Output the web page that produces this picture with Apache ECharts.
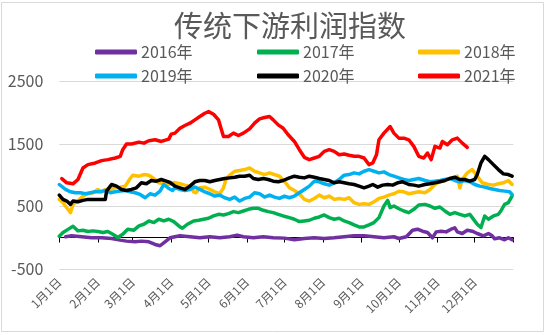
<!DOCTYPE html>
<html>
<head>
<meta charset="utf-8">
<script src="https://cdn.jsdelivr.net/npm/echarts@6/dist/echarts.min.js"></script>
<style>
html,body{margin:0;padding:0;background:#fff;}
#chart{width:550px;height:335px;}
</style>
</head>
<body>
<div id="chart"></div>
<script>
// ---- data (day index from 1月1日, value) ----
var titleText = '传统下游利润指数';
var seriesNames = ['2016年', '2017年', '2018年', '2019年', '2020年', '2021年'];
var yTicks = [-500, 500, 1500, 2500];
var monthLabels = ['1月1日','2月1日','3月1日','4月1日','5月1日','6月1日','7月1日','8月1日','9月1日','10月1日','11月1日','12月1日'];

var days2016 = [5,10,18,26,34,42,49,54,61,66,72,77,81,85,89,93,97,105,113,121,129,137,143,148,156,164,172,181,189,197,205,213,221,229,237,245,253,261,269,273,279,284,288,292,296,300,303,307,311,315,318,320,324,328,332,336,341,345,348,350,354,358,361,364];
var vals2016 = [12,27,12,-5,-5,-16,-42,-58,-69,-58,-69,-111,-132,-69,-5,12,27,12,-5,12,-5,12,38,12,-5,12,-5,-10,-37,-16,-5,-16,-5,12,27,27,12,-5,12,-16,12,117,133,101,80,-5,90,101,90,133,154,90,64,117,101,64,27,64,27,-21,-5,-37,-5,-37];

var days2017 = [0,3,7,11,15,19,23,27,31,35,39,43,47,51,55,60,64,68,72,76,80,84,88,92,97,99,103,108,112,116,120,124,128,132,136,140,144,148,152,156,160,164,168,172,176,180,185,189,193,197,201,205,209,213,217,221,225,229,233,237,241,245,249,253,257,261,264,266,269,273,277,281,285,289,294,298,302,306,310,314,318,322,326,330,332,336,339,342,345,349,353,355,358,361,364];
var vals2017 = [20,80,130,180,106,117,96,106,96,80,96,53,0,53,133,117,186,212,265,239,292,265,292,255,170,149,212,265,276,292,308,345,371,361,382,414,398,424,451,467,467,435,414,398,371,345,318,292,255,265,276,308,329,361,318,292,308,265,239,202,170,170,202,239,318,504,594,477,504,460,424,398,451,520,530,504,467,488,424,371,398,371,345,371,318,212,159,345,292,345,371,424,530,557,663];

var days2018 = [0,3,6,9,11,15,19,23,27,31,34,37,41,45,49,53,57,59,64,68,72,76,80,84,88,92,97,101,105,108,110,113,117,121,125,129,132,134,137,141,145,149,153,157,161,165,169,173,177,181,185,189,193,197,201,205,209,213,217,221,225,229,233,237,241,245,249,253,257,261,265,269,273,277,281,285,289,294,298,302,306,310,314,318,320,322,324,328,332,336,340,345,349,353,357,361,364];
var vals2018 = [610,557,477,398,530,583,663,700,716,769,731,769,769,795,806,822,944,997,981,1007,997,944,875,859,848,880,859,838,822,731,716,795,806,769,731,700,795,928,997,1060,1071,1087,1113,1060,1034,1007,1034,1007,981,900,795,753,700,610,583,625,678,636,663,610,625,610,636,557,530,541,530,573,625,647,678,700,740,731,700,716,731,716,769,848,891,912,944,954,981,795,928,1034,1087,981,875,848,838,859,875,912,848];

var days2019 = [0,5,9,13,17,21,25,29,33,37,41,45,49,53,57,61,65,69,73,77,81,84,88,91,93,97,101,105,109,113,117,121,125,129,133,137,141,145,149,153,157,161,165,169,173,177,181,185,189,193,197,201,205,209,213,217,221,225,229,233,237,241,245,249,253,257,261,265,269,273,277,281,285,289,294,298,302,306,310,314,318,322,326,330,334,338,342,346,350,354,358,362,364];
var vals2019 = [848,769,731,716,716,700,716,731,731,753,716,731,742,753,731,716,689,636,700,678,742,848,784,753,795,769,753,769,806,769,731,700,663,678,636,610,647,583,625,647,716,700,647,678,647,625,663,636,663,716,769,822,901,891,859,838,875,928,997,1007,1034,1018,1060,1087,1060,1034,1050,1007,981,954,928,912,928,944,912,891,901,912,928,944,912,891,912,891,848,822,806,784,769,753,742,731,689];

var days2020 = [0,3,6,9,11,15,19,23,29,34,37,38,42,46,50,54,58,62,66,70,74,78,82,86,89,93,97,101,105,109,113,117,121,125,129,133,137,141,145,149,153,156,160,164,168,172,176,180,185,189,193,197,201,205,209,213,217,221,225,229,233,237,241,245,249,252,256,260,264,268,272,276,281,285,289,294,298,302,306,310,314,318,322,326,330,334,336,339,342,345,349,353,357,361,364];
var vals2020 = [678,610,583,530,583,573,594,610,610,610,610,742,848,822,769,753,769,795,875,859,912,901,928,901,880,822,795,769,822,891,912,912,891,912,928,944,954,965,981,981,997,944,928,944,928,901,891,912,954,981,965,954,981,965,944,928,912,875,891,875,859,848,822,795,822,848,806,838,848,838,875,891,848,838,822,848,859,875,891,912,944,965,928,928,901,928,1007,1193,1299,1246,1166,1087,1018,1007,981];

var days2021 = [2,6,11,15,19,23,29,34,39,45,49,51,54,58,64,68,72,77,82,88,90,93,97,101,105,109,113,117,120,124,128,130,132,136,140,144,148,153,157,161,165,169,172,176,180,184,189,193,197,201,205,209,213,217,221,225,229,233,237,241,245,249,252,255,257,261,266,269,273,277,281,285,289,293,296,299,302,306,308,312,316,320,324,328];
var vals2021 = [943,875,859,928,1113,1166,1193,1230,1246,1272,1299,1405,1495,1495,1526,1510,1548,1563,1537,1574,1654,1670,1749,1792,1829,1882,1935,1988,2014,1972,1882,1749,1617,1617,1670,1632,1670,1738,1829,1898,1919,1935,1882,1802,1749,1643,1537,1405,1283,1246,1272,1299,1378,1405,1378,1325,1336,1315,1299,1299,1272,1166,1193,1325,1563,1670,1776,1670,1590,1590,1563,1458,1299,1272,1352,1246,1458,1431,1537,1484,1563,1590,1510,1442];

var seriesDays = [days2016, days2017, days2018, days2019, days2020, days2021];
var seriesVals = [vals2016, vals2017, vals2018, vals2019, vals2020, vals2021];
var seriesColors = ['#7030A0', '#00B050', '#FFC000', '#00B0F0', '#000000', '#FF0000'];

// ---- category axis: every day of the year ----
var monthLens = [31,28,31,30,31,30,31,31,30,31,30,31];
var categories = [];
var monthStartIdx = [];
for (var m = 0; m < 12; m++) {
  monthStartIdx.push(categories.length);
  for (var d = 1; d <= monthLens[m]; d++) categories.push((m + 1) + '月' + d + '日');
}
var endIdx = categories.length; // next year's Jan 1 (axis end)
categories.push('次年1月1日');
var tickIdx = monthStartIdx.concat([endIdx]);

var font = '"Noto Sans CJK SC", "Noto Sans", sans-serif';
var gray = '#595959';

var series = seriesNames.map(function (name, i) {
  return {
    name: name,
    type: 'line',
    xAxisIndex: 0,
    showSymbol: false,
    symbol: 'none',
    lineStyle: { color: seriesColors[i], width: 3.5, cap: 'round', join: 'round' },
    itemStyle: { color: seriesColors[i] },
    data: seriesDays[i].map(function (dd, k) { return [dd, seriesVals[i][k]]; }),
    z: 2 + i
  };
});

function legendCol(names, left) {
  return {
    orient: 'vertical',
    left: left,
    top: 44,
    padding: 0,
    itemGap: 8,
    itemWidth: 42,
    itemHeight: 5,
    icon: 'roundRect',
    data: names,
    selectedMode: false,
    textStyle: { fontFamily: font, fontSize: 16, color: gray, padding: [0, 0, 0, -1] }
  };
}

var chart = echarts.init(document.getElementById('chart'), null, { renderer: 'canvas' });
chart.setOption({
  animation: false,
  backgroundColor: '#ffffff',
  title: {
    text: titleText,
    left: 174,
    top: 11,
    padding: 0,
    textStyle: { fontFamily: font, fontSize: 29, fontWeight: 'normal', color: gray }
  },
  legend: [
    legendCol([seriesNames[0], seriesNames[3]], 95),
    legendCol([seriesNames[1], seriesNames[4]], 257),
    legendCol([seriesNames[2], seriesNames[5]], 418)
  ],
  grid: {
    left: 59.3,
    right: 36.7,
    top: 81.25,
    bottom: 66.25,
    containLabel: false,
    outerBoundsMode: 'none'
  },
  xAxis: [
    {
      type: 'category',
      data: categories,
      boundaryGap: false,
      position: 'bottom',
      axisLine: { show: false, onZero: false },
      axisTick: { show: false },
      splitLine: { show: false },
      axisLabel: {
        interval: function (idx) { return monthStartIdx.indexOf(idx) >= 0; },
        rotate: 45,
        margin: 11,
        fontFamily: font,
        fontSize: 12,
        color: gray,
        hideOverlap: false
      }
    },
    {
      type: 'category',
      data: categories,
      boundaryGap: false,
      position: 'bottom',
      axisLine: { show: true, onZero: true, lineStyle: { color: '#000000', width: 1 } },
      axisTick: {
        show: true,
        length: 5,
        interval: function (idx) { return tickIdx.indexOf(idx) >= 0; },
        lineStyle: { color: '#000000', width: 1 }
      },
      axisLabel: { show: false },
      splitLine: { show: false }
    }
  ],
  yAxis: {
    type: 'value',
    min: yTicks[0],
    max: yTicks[yTicks.length - 1],
    interval: yTicks[1] - yTicks[0],
    axisLine: { show: false },
    axisTick: { show: false },
    axisLabel: {
      margin: 16, fontFamily: font, fontSize: 16, color: gray,
      formatter: function (v) { return String(v); }
    },
    splitLine: { show: true, lineStyle: { color: '#d9d9d9', width: 1 } }
  },
  graphic: [{
    type: 'rect',
    shape: { x: 1.5, y: 2.5, width: 542, height: 329 },
    style: { fill: null, stroke: '#d9d9d9', lineWidth: 1 },
    silent: true,
    z: -10
  }],
  series: series
});
</script>
</body>
</html>
